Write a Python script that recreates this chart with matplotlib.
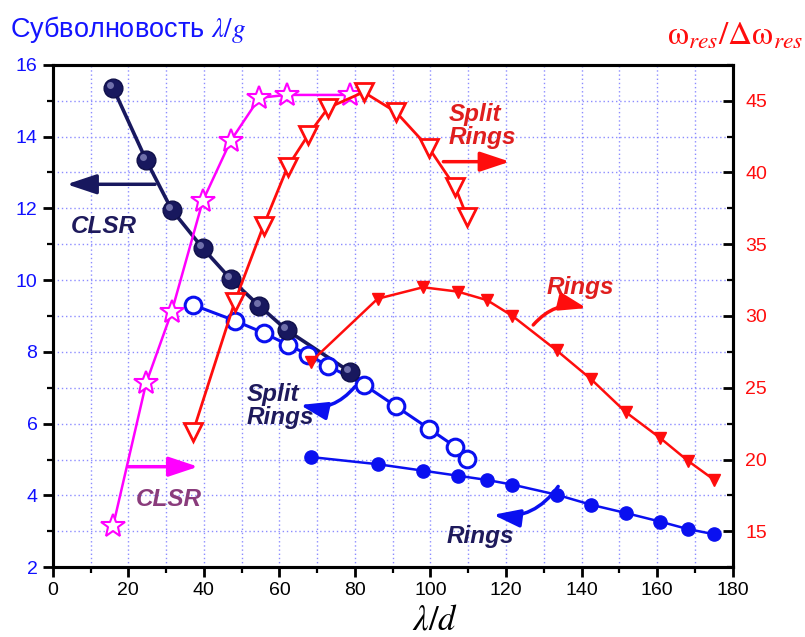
import matplotlib
matplotlib.use("Agg")
import matplotlib.pyplot as plt
from matplotlib.ticker import MultipleLocator
from matplotlib.transforms import offset_copy

plt.rcParams["font.family"] = ["Liberation Sans", "DejaVu Sans"]
plt.rcParams["mathtext.fontset"] = "stix"

# left axis: sub-wavelength ratio lambda/g; right axis: Q = w_res / dw_res
clsr_x = [16.0, 24.7, 31.5, 39.7, 47.1, 54.7, 61.9, 78.6]
clsr_g = [15.35, 13.35, 11.96, 10.89, 10.03, 9.28, 8.61, 7.45]
clsr_q = [15.4, 25.3, 30.3, 38.0, 42.2, 45.2, 45.4, 45.4]

split_x = [37.1, 48.2, 55.8, 62.2, 67.6, 72.9, 82.3, 90.9, 99.6, 106.5, 109.7]
split_g = [9.31, 8.87, 8.53, 8.20, 7.92, 7.61, 7.09, 6.48, 5.86, 5.36, 5.01]
split_q = [21.9, 31.0, 36.3, 40.4, 42.6, 44.5, 45.6, 44.2, 41.7, 39.0, 36.9]

rings_x = [68.3, 86.0, 98.0, 107.2, 115.0, 121.7, 133.4, 142.5, 151.7, 160.8, 168.2, 175.0]
rings_g = [5.07, 4.87, 4.69, 4.55, 4.43, 4.30, 4.02, 3.74, 3.51, 3.27, 3.06, 2.92]
rings_q = [26.8, 31.2, 32.0, 31.7, 31.1, 30.0, 27.6, 25.6, 23.3, 21.5, 19.9, 18.6]

NAVY = "#18185e"
BLUE = "#0a10f0"
MAGENTA = "#ff00ff"
RED = "#ff0d0d"
RED_TXT = "#e01e1e"
MAUVE = "#8a3c7c"

fig = plt.figure(figsize=(8.05, 6.37), dpi=100)
ax = fig.add_axes([0.0655, 0.1096, 0.8447, 0.7887])
ax2 = ax.twinx()

# --- left axis series ---
ax.plot(clsr_x, clsr_g, "-", color=NAVY, lw=2.6, zorder=3)
ax.plot(clsr_x, clsr_g, "o", color=NAVY, ms=13.5, mec="#10104a", mew=1, zorder=4)
hl = offset_copy(ax.transData, fig=fig, x=-2.0, y=2.2, units="points")
ax.plot(clsr_x, clsr_g, "o", color="#7a7ab4", ms=5, mew=0, alpha=0.9,
        transform=hl, zorder=5)

ax.plot(split_x, split_g, "-o", color=BLUE, lw=2.2, ms=12, mfc="white",
        mec=BLUE, mew=2.2, zorder=3)
ax.plot(rings_x, rings_g, "-o", color=BLUE, lw=1.8, ms=9.5, mfc=BLUE,
        mec=BLUE, zorder=3)

# --- right axis series ---
ax2.plot(clsr_x, clsr_q, "-*", color=MAGENTA, lw=1.8, ms=18, mfc="white",
         mec=MAGENTA, mew=1.5)
ax2.plot(split_x, split_q, "-v", color=RED, lw=2.0, ms=12.5, mfc="white",
         mec=RED, mew=2.0)
ax2.plot(rings_x, rings_q, "-v", color=RED, lw=1.8, ms=8, mfc=RED, mec=RED)

# axes limits and ticks
ax.set_xlim(0, 180)
ax.set_ylim(2, 16)
ax2.set_ylim(12.5, 47.5)
ax.xaxis.set_major_locator(MultipleLocator(20))
ax.xaxis.set_minor_locator(MultipleLocator(10))
ax.yaxis.set_major_locator(MultipleLocator(2))
ax.yaxis.set_minor_locator(MultipleLocator(1))
ax2.yaxis.set_major_locator(MultipleLocator(5))
ax2.yaxis.set_minor_locator(MultipleLocator(2.5))

ax.grid(True, which="both", linestyle=(0, (1, 2)), color="#8c8cff", lw=1.0)
ax.set_axisbelow(True)

for a in (ax, ax2):
    for s in a.spines.values():
        s.set_linewidth(2.2)
        s.set_color("black")

ax.tick_params(axis="x", which="major", direction="out", length=7, width=2,
               labelsize=14, pad=4, top=False)
ax.tick_params(axis="x", which="minor", direction="out", length=4, width=1.6, top=False)
ax.tick_params(axis="y", which="major", direction="out", length=7, width=2,
               labelsize=14, labelcolor="#1010ff", pad=4)
ax.tick_params(axis="y", which="minor", direction="out", length=4, width=1.6)
ax2.tick_params(axis="y", which="major", direction="in", length=7, width=2,
                labelsize=14, labelcolor=RED, pad=9)
ax2.tick_params(axis="y", which="minor", direction="in", length=4, width=1.6)

# axis titles
fig.text(0.013, 0.953, r"Субволновость $\lambda/g$", color="#1414ff",
         fontsize=19.5, ha="left", va="center")
fig.text(0.998, 0.943, r"$\mathrm{\omega}_{res}/\Delta\mathrm{\omega}_{res}$",
         color=RED, fontsize=24, ha="right", va="center")
fig.text(0.54, 0.027, r"$\lambda/d$", color="black", fontsize=25,
         ha="center", va="center")

# series annotations
lab = dict(fontsize=17.5, fontweight="bold", fontstyle="italic")
arrow = "-|>,head_length=0.9,head_width=0.3"

ax.text(13.6, 11.5, "CLSR", color="#1e1a5c", ha="center", va="center", **lab)
ax.annotate("", xy=(3.7, 12.67), xytext=(27.1, 12.67),
            arrowprops=dict(arrowstyle=arrow, color=NAVY, lw=2.5, mutation_scale=20,
                            shrinkA=0, shrinkB=0))

ax.text(30.8, 3.9, "CLSR", color=MAUVE, ha="center", va="center", **lab)
ax.annotate("", xy=(38.5, 4.8), xytext=(20.0, 4.8),
            arrowprops=dict(arrowstyle=arrow, color=MAGENTA, lw=2.5, mutation_scale=20,
                            shrinkA=0, shrinkB=0))

ax.text(104.8, 14.3, "Split\nRings", color=RED_TXT, ha="left", va="center",
        linespacing=1.0, **lab)
ax.annotate("", xy=(121.0, 13.3), xytext=(103.4, 13.3),
            arrowprops=dict(arrowstyle=arrow, color=RED, lw=2.5, mutation_scale=20,
                            shrinkA=0, shrinkB=0))

ax.text(139.6, 9.8, "Rings", color=RED_TXT, ha="center", va="center", **lab)
ax.annotate("", xy=(141.3, 9.22), xytext=(127.2, 8.75),
            arrowprops=dict(arrowstyle=arrow, color=RED, lw=2.5, mutation_scale=18,
                            shrinkA=0, shrinkB=0,
                            connectionstyle="arc3,rad=-0.3"))

ax.text(51.4, 6.5, "Split\nRings", color="#1e1a5c", ha="left", va="center",
        linespacing=1.0, **lab)
ax.annotate("", xy=(65.5, 6.52), xytext=(80.0, 7.03),
            arrowprops=dict(arrowstyle=arrow, color=BLUE, lw=2.5, mutation_scale=18,
                            shrinkA=0, shrinkB=0,
                            connectionstyle="arc3,rad=-0.3"))

ax.text(113.1, 2.85, "Rings", color="#1e1a5c", ha="center", va="center", **lab)
ax.annotate("", xy=(116.6, 3.46), xytext=(133.8, 4.25),
            arrowprops=dict(arrowstyle=arrow, color=BLUE, lw=2.5, mutation_scale=18,
                            shrinkA=0, shrinkB=0,
                            connectionstyle="arc3,rad=-0.3"))

fig.savefig("out.png", dpi=100)
